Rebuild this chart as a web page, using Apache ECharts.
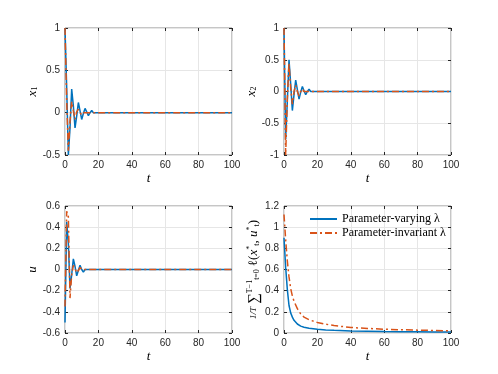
<!DOCTYPE html>
<html>
<head>
<meta charset="utf-8">
<script src="https://cdn.jsdelivr.net/npm/echarts@6/dist/echarts.min.js"></script>
<style>
  html, body { margin: 0; padding: 0; background: #fff; }
  #main { width: 498px; height: 374px; }
</style>
</head>
<body>
<div id="main"></div>
<script>
// values, index = t (0,1,2,...), the rest stays at 0 until t=100
const x1Varying = [1, 0.3, -0.5, -0.18, 0.28, 0.08, -0.18, -0.04, 0.12, 0.02, -0.08, -0.01, 0.05, 0.01, -0.035, 0, 0.025, 0, -0.018, 0, 0.012, 0, -0.008, 0, 0.005, 0];
const x1Invariant = [1, 0.15, -0.45, -0.1, 0.13, 0.02, -0.08, 0.01, 0.04, 0, -0.025, 0, 0.015, 0, -0.01, 0, 0.005, 0];
const x2Varying = [1, -0.75, -0.15, 0.5, 0.12, -0.3, -0.05, 0.18, 0.03, -0.12, -0.01, 0.08, 0.01, -0.05, 0, 0.035, 0, -0.022, 0, 0.015, 0, -0.01, 0, 0.006, 0];
const x2Invariant = [1, -1, -0.1, 0.45, 0.05, -0.2, 0, 0.1, 0, -0.07, 0, 0.04, 0, -0.025, 0, 0.012, 0, -0.006, 0];
const uVarying = [-0.5, 0.45, 0.25, -0.18, -0.05, 0.1, 0.03, -0.06, -0.01, 0.04, 0, -0.025, 0, 0.015, 0, -0.01, 0, 0.006, 0, -0.003, 0];
const uInvariant = [-0.35, 0.55, 0.5, -0.27, -0.05, 0.04, 0.04, -0.03, -0.01, 0.02, 0, -0.01, 0, 0.005, 0];
const tEnd = 100;

// running average cost, [t, value]
const costVarying = [[0, 0.9], [1, 0.62], [2, 0.41], [3, 0.26], [4, 0.19], [5, 0.15], [6, 0.12], [8, 0.085], [10, 0.065], [12, 0.055], [15, 0.045], [20, 0.035], [25, 0.029], [30, 0.025], [40, 0.019], [50, 0.016], [60, 0.013], [70, 0.012], [80, 0.011], [90, 0.01], [100, 0.009]];
const costInvariant = [[0, 1.12], [1, 0.88], [2, 0.68], [3, 0.53], [4, 0.42], [5, 0.35], [6, 0.3], [8, 0.23], [10, 0.18], [12, 0.15], [15, 0.125], [20, 0.1], [25, 0.083], [30, 0.07], [40, 0.052], [50, 0.043], [60, 0.036], [70, 0.031], [80, 0.027], [90, 0.024], [100, 0.02]];

const xTicks = { min: 0, max: 100, interval: 20 };
const yRanges = [
  { min: -0.5, max: 1, interval: 0.5 },
  { min: -1, max: 1, interval: 0.5 },
  { min: -0.6, max: 0.6, interval: 0.2 },
  { min: 0, max: 1.2, interval: 0.2 }
];
const names = ['Parameter-varying λ', 'Parameter-invariant λ'];

const BLUE = '#0072BD', ORANGE = '#D95319';
const serif = 'Liberation Serif';
const sans = 'Liberation Sans';

function steps(arr) {
  let pts = arr.map((v, i) => [i, v]);
  pts.push([tEnd, 0]);
  return pts;
}

let chart = echarts.init(document.getElementById('main'));

let grids = [
  { left: 65, top: 28, width: 167, height: 127 },
  { left: 284, top: 28, width: 167, height: 127 },
  { left: 65, top: 206, width: 167, height: 127 },
  { left: 284, top: 206, width: 167, height: 127 }
].map(g => Object.assign(g, { show: true, borderColor: '#8c8c8c', borderWidth: 1 }));

let sub = { fontFamily: serif, fontSize: 8, verticalAlign: 'bottom' };
let sup = { fontFamily: serif, fontSize: 8, verticalAlign: 'top' };
let ital = { fontFamily: serif, fontStyle: 'italic', fontSize: 13, color: '#000' };

let yNames = [
  '{v|x}{s|1}',
  '{v|x}{s|2}',
  '{v|u}',
  '{f|1/T} {b|∑}{p|T−1}{s|t=0} {r|ℓ(}{v|x}{p|*}{s|t}{r|, }{v|u}{p|*}{s|t}{r|)}'
];
let yNameGaps = [22, 22, 22, 16];

let tick = { inside: true, length: 3, lineStyle: { color: '#262626' } };

let xAxes = [], yAxes = [];
for (let i = 0; i < 4; i++) {
  xAxes.push({
    type: 'value', gridIndex: i, min: xTicks.min, max: xTicks.max, interval: xTicks.interval,
    name: 't', nameLocation: 'middle', nameGap: 17,
    nameTextStyle: { fontFamily: serif, fontStyle: 'italic', fontSize: 13, color: '#000' },
    axisLine: { show: false, onZero: false },
    axisTick: tick,
    axisLabel: { fontFamily: sans, fontSize: 10, color: '#262626', margin: 5 },
    splitLine: { show: true, lineStyle: { color: '#e6e6e6', width: 1 } }
  });
  yAxes.push({
    type: 'value', gridIndex: i, min: yRanges[i].min, max: yRanges[i].max, interval: yRanges[i].interval,
    name: yNames[i], nameLocation: 'middle', nameGap: yNameGaps[i],
    nameTextStyle: {
      fontFamily: serif, fontSize: 12, color: '#000',
      rich: {
        v: ital, s: sub, p: sup,
        f: { fontFamily: serif, fontSize: 9, fontStyle: 'italic' },
        b: { fontFamily: serif, fontSize: 15 },
        r: { fontFamily: serif, fontSize: 13 }
      }
    },
    axisLine: { show: false, onZero: false },
    axisTick: tick,
    axisLabel: { fontFamily: sans, fontSize: 10, color: '#262626', margin: 5 },
    splitLine: { show: true, lineStyle: { color: '#e6e6e6', width: 1 } }
  });
}
// ticks on top and right side of each box
for (let i = 0; i < 4; i++) {
  xAxes.push({
    type: 'value', gridIndex: i, position: 'top', min: xTicks.min, max: xTicks.max, interval: xTicks.interval,
    axisLine: { show: false, onZero: false }, axisLabel: { show: false }, splitLine: { show: false },
    axisTick: tick
  });
  yAxes.push({
    type: 'value', gridIndex: i, position: 'right', min: yRanges[i].min, max: yRanges[i].max, interval: yRanges[i].interval,
    axisLine: { show: false, onZero: false }, axisLabel: { show: false }, splitLine: { show: false },
    axisTick: tick
  });
}

function line(name, data, idx, isDash) {
  return {
    name: name, type: 'line', xAxisIndex: idx, yAxisIndex: idx, data: data,
    showSymbol: false, symbol: 'none', animation: false,
    lineStyle: { color: isDash ? ORANGE : BLUE, width: 1.5, type: isDash ? [7, 3, 2, 3] : 'solid' },
    itemStyle: { color: isDash ? ORANGE : BLUE }
  };
}

let option = {
  backgroundColor: '#fff',
  animation: false,
  grid: grids,
  xAxis: xAxes,
  yAxis: yAxes,
  legend: {
    data: names, orient: 'vertical', left: 309, top: 213, itemGap: 2, padding: 0,
    itemWidth: 27, itemHeight: 13,
    itemStyle: { opacity: 0 },
    textStyle: { fontFamily: serif, fontSize: 12, color: '#000' }
  },
  series: [
    line(names[0], steps(x1Varying), 0, false),
    line(names[1], steps(x1Invariant), 0, true),
    line(names[0], steps(x2Varying), 1, false),
    line(names[1], steps(x2Invariant), 1, true),
    line(names[0], steps(uVarying), 2, false),
    line(names[1], steps(uInvariant), 2, true),
    line(names[0], costVarying, 3, false),
    line(names[1], costInvariant, 3, true)
  ]
};

chart.setOption(option);
</script>
</body>
</html>
